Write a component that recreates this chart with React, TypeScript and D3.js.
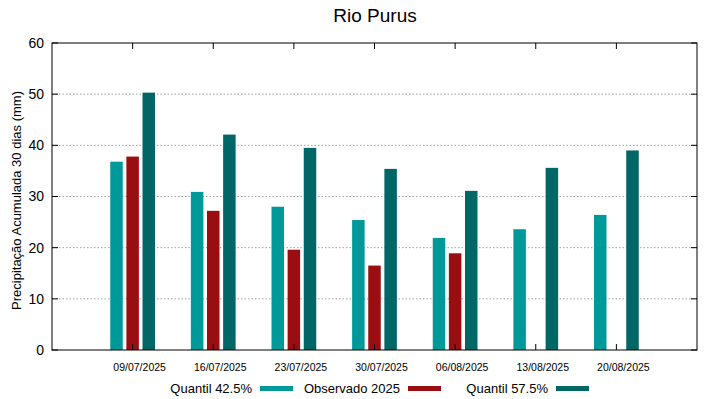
import { useEffect, useRef } from 'react';
import * as d3 from 'd3';

const dates = ['09/07/2025', '16/07/2025', '23/07/2025', '30/07/2025', '06/08/2025', '13/08/2025', '20/08/2025'];
const q425 = [36.8, 30.9, 28.0, 25.4, 21.9, 23.6, 26.4];
const observed: (number | null)[] = [37.8, 27.2, 19.6, 16.5, 18.9, null, null];
const q575 = [50.3, 42.1, 39.5, 35.4, 31.1, 35.6, 39.0];
const yTicks = [0, 10, 20, 30, 40, 50, 60];

const series = [
  { name: 'Quantil 42.5%', values: q425 as (number | null)[], color: '#009999', offset: -0.2 },
  { name: 'Observado 2025', values: observed, color: '#990e10', offset: 0 },
  { name: 'Quantil 57.5%', values: q575 as (number | null)[], color: '#006666', offset: 0.2 },
];

export default function App() {
  const svgRef = useRef<SVGSVGElement>(null);

  useEffect(() => {
    if (!svgRef.current) return;
    const width = 719;
    const height = 399;
    const m = { top: 43, right: 22, bottom: 49, left: 52 };
    const font = '"Liberation Sans", Arial, sans-serif';

    const svg = d3.select(svgRef.current);
    svg.selectAll('*').remove();

    const x = d3.scaleLinear().domain([-1, 7]).range([m.left, width - m.right]);
    const y = d3.scaleLinear().domain([0, 60]).range([height - m.bottom, m.top]);
    const barW = x(0.155) - x(0);
    const tick = 6;

    // grid
    svg.append('g')
      .selectAll('line')
      .data(yTicks.filter(t => t > 0 && t < 60))
      .join('line')
      .attr('x1', m.left)
      .attr('x2', width - m.right)
      .attr('y1', d => y(d))
      .attr('y2', d => y(d))
      .attr('stroke', '#a0a0a0')
      .attr('stroke-width', 1)
      .attr('stroke-dasharray', '1.5,2');

    // bars
    series.forEach(s => {
      svg.append('g')
        .selectAll('rect')
        .data(s.values.map((v, i) => ({ v, i })).filter(d => d.v !== null))
        .join('rect')
        .attr('x', d => x(d.i + s.offset) - barW / 2)
        .attr('y', d => y(d.v as number))
        .attr('width', barW)
        .attr('height', d => y(0) - y(d.v as number))
        .attr('fill', s.color);
    });

    // frame
    svg.append('rect')
      .attr('x', m.left)
      .attr('y', m.top)
      .attr('width', width - m.left - m.right)
      .attr('height', height - m.top - m.bottom)
      .attr('fill', 'none')
      .attr('stroke', '#000')
      .attr('stroke-width', 1);

    // y ticks (both sides, inward)
    const yt = svg.append('g');
    yTicks.forEach(t => {
      yt.append('line').attr('x1', m.left).attr('x2', m.left + tick)
        .attr('y1', y(t)).attr('y2', y(t)).attr('stroke', '#000');
      yt.append('line').attr('x1', width - m.right).attr('x2', width - m.right - tick)
        .attr('y1', y(t)).attr('y2', y(t)).attr('stroke', '#000');
      yt.append('text')
        .attr('x', m.left - 8)
        .attr('y', y(t))
        .attr('dy', '0.35em')
        .attr('text-anchor', 'end')
        .style('font-family', font)
        .style('font-size', '14px')
        .text(t);
    });

    // x ticks (bottom and top, inward)
    const xt = svg.append('g');
    dates.forEach((d, i) => {
      xt.append('line').attr('x1', x(i)).attr('x2', x(i))
        .attr('y1', y(0)).attr('y2', y(0) - tick).attr('stroke', '#000');
      xt.append('line').attr('x1', x(i)).attr('x2', x(i))
        .attr('y1', m.top).attr('y2', m.top + tick).attr('stroke', '#000');
      xt.append('text')
        .attr('x', x(i) + 7)
        .attr('y', y(0) + 21)
        .attr('text-anchor', 'middle')
        .style('font-family', font)
        .style('font-size', '10.5px')
        .text(d);
    });

    // title
    svg.append('text')
      .attr('x', 375)
      .attr('y', 22)
      .attr('text-anchor', 'middle')
      .style('font-family', font)
      .style('font-size', '19px')
      .text('Rio Purus');

    // y label
    svg.append('text')
      .attr('transform', `translate(21,${(m.top + height - m.bottom) / 2 + 4}) rotate(-90)`)
      .attr('text-anchor', 'middle')
      .style('font-family', font)
      .style('font-size', '13px')
      .text('Precipitação Acumulada 30 dias (mm)');

    // legend
    const legendEnds = [252, 400, 548];
    const lg = svg.append('g');
    series.forEach((s, i) => {
      lg.append('text')
        .attr('x', legendEnds[i])
        .attr('y', 388)
        .attr('dy', '0.35em')
        .attr('text-anchor', 'end')
        .style('font-family', font)
        .style('font-size', '13px')
        .text(s.name);
      lg.append('rect')
        .attr('x', legendEnds[i] + 8)
        .attr('y', 386)
        .attr('width', 33)
        .attr('height', 5)
        .attr('fill', s.color);
    });
  }, []);

  return (
    <svg
      ref={svgRef}
      width={719}
      height={399}
      style={{ position: 'absolute', left: 0, top: 0, background: '#fff' }}
    />
  );
}
